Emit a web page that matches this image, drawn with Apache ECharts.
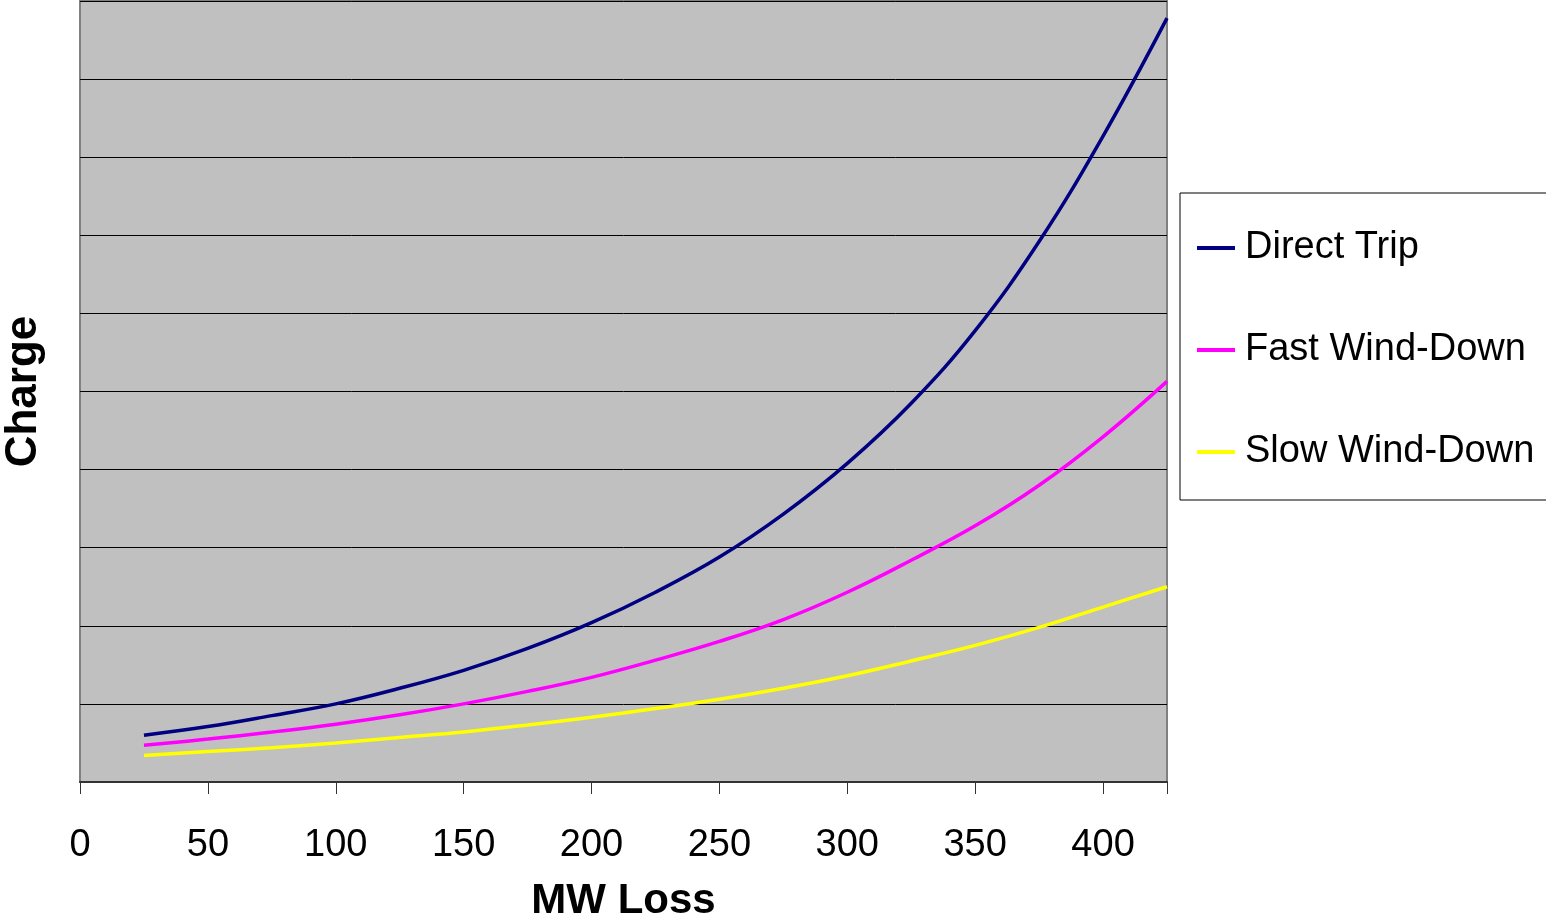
<!DOCTYPE html>
<html>
<head>
<meta charset="utf-8">
<script src="https://cdn.jsdelivr.net/npm/echarts@6/dist/echarts.min.js"></script>
<style>
html,body{margin:0;padding:0;background:#fff;}
#chart{width:1546px;height:922px;}
</style>
</head>
<body>
<div id="chart"></div>
<script>
const mwLoss = [25, 50, 75, 100, 125, 150, 175, 200, 225, 250, 275, 300, 325, 350, 375, 400, 425];
const directTrip = [0.60, 0.71, 0.85, 1.00, 1.20, 1.43, 1.71, 2.04, 2.43, 2.88, 3.43, 4.08, 4.85, 5.78, 6.92, 8.27, 9.78];
const fastWindDown = [0.47, 0.55, 0.64, 0.74, 0.86, 1.00, 1.16, 1.34, 1.56, 1.80, 2.08, 2.43, 2.84, 3.28, 3.80, 4.42, 5.13];
const slowWindDown = [0.34, 0.39, 0.44, 0.50, 0.57, 0.64, 0.73, 0.83, 0.94, 1.06, 1.20, 1.36, 1.55, 1.75, 1.98, 2.24, 2.50];
const seriesNames = ['Direct Trip', 'Fast Wind-Down', 'Slow Wind-Down'];
const xTicks = [0, 50, 100, 150, 200, 250, 300, 350, 400];

const FONT = '"Liberation Sans", Arial, sans-serif';
const pairs = (ys) => mwLoss.map((x, i) => [x, ys[i]]);
const colors = ['#000080', '#FF00FF', '#FFFF00'];
const datasets = [directTrip, fastWindDown, slowWindDown];

const chart = echarts.init(document.getElementById('chart'), null, {renderer: 'canvas'});
chart.setOption({
  animation: false,
  backgroundColor: '#ffffff',
  textStyle: {fontFamily: FONT},
  grid: {
    left: 80, right: 379, top: 1, bottom: 140,
    show: true, backgroundColor: '#C0C0C0', borderColor: '#808080', borderWidth: 2,
    containLabel: false,
    outerBoundsMode: 'none'
  },
  legend: {
    orient: 'vertical',
    left: 1180, top: 193,
    padding: [36, 40, 29, 17],
    itemGap: 64,
    itemWidth: 38, itemHeight: 4,
    icon: 'rect',
    backgroundColor: '#ffffff',
    borderColor: '#000000', borderWidth: 1,
    textStyle: {fontSize: 38, color: '#000', fontFamily: FONT, padding: [0, 0, 0, 5]},
    data: seriesNames
  },
  xAxis: {
    type: 'value', min: 0, max: 425, interval: 50,
    name: 'MW Loss', nameLocation: 'middle', nameGap: 98,
    nameTextStyle: {fontSize: 42, fontWeight: 'bold', color: '#000', fontFamily: FONT},
    axisLine: {show: true, lineStyle: {color: '#333333', width: 2}},
    axisTick: {show: true, length: 12, lineStyle: {color: '#333333', width: 1}},
    axisLabel: {
      fontSize: 38, color: '#000', margin: 45, fontFamily: FONT,
      formatter: (v) => xTicks.includes(v) ? String(v) : ''
    },
    splitLine: {show: false}
  },
  yAxis: {
    type: 'value', min: 0, max: 10, interval: 1,
    name: 'Charge', nameLocation: 'middle', nameGap: 34, nameRotate: 90,
    nameTextStyle: {fontSize: 44, fontWeight: 'bold', color: '#000', fontFamily: FONT},
    axisLine: {show: false},
    axisTick: {show: false},
    axisLabel: {show: false},
    splitLine: {show: true, lineStyle: {color: '#000000', width: 1}}
  },
  series: seriesNames.map((name, i) => ({
    name: name,
    type: 'line',
    data: pairs(datasets[i]),
    smooth: 0.4,
    showSymbol: false,
    symbol: 'none',
    lineStyle: {color: colors[i], width: 3.5},
    itemStyle: {color: colors[i]}
  }))
});
</script>
</body>
</html>
